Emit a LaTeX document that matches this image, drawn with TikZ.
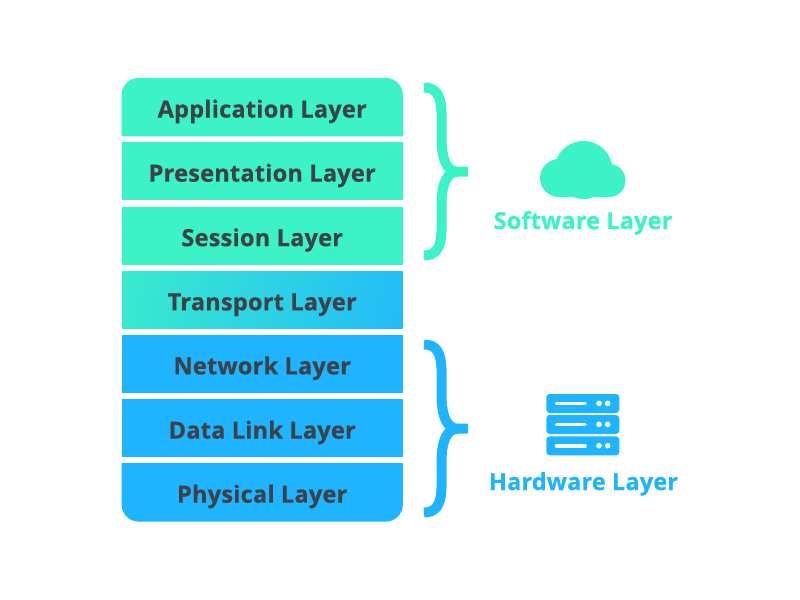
\documentclass[tikz,border=0pt]{standalone}
\usepackage{fontspec}
\usetikzlibrary{backgrounds}
\setmainfont{Open Sans}[LetterSpace=0.8,BoldFeatures={FakeBold=0.4}]
\definecolor{mint}{HTML}{3BF3C7}
\definecolor{sky}{HTML}{1FB4FF}
\definecolor{ink}{HTML}{3C4248}
\tikzset{
  layerbox/.style={minimum width=210.5pt,minimum height=43.5pt,inner sep=0pt,text=ink,text height=15.5pt,text depth=0pt,font=\fontsize{17.7}{20}\selectfont\bfseries},
  headline/.style={inner sep=0pt,text height=15.5pt,text depth=0pt,font=\fontsize{17.6}{20}\selectfont\bfseries},
  bracestroke/.style={line width=7.5pt,line cap=butt,line join=round},
}
\newcommand{\bracepic}[2]{%
  \draw[bracestroke,#1,yshift=#2] (424,87.5)
    .. controls (435,87.5) and (441,94) .. (441.5,112)
    -- (441.5,140)
    .. controls (442,160) and (447,171.7) .. (458,171.7) -- (468,171.7)
    (458,171.7) .. controls (447,171.7) and (442,183) .. (441.5,203)
    -- (441.5,231)
    .. controls (441,249) and (435,255.5) .. (424,255.5);}
\begin{document}
\begin{tikzpicture}[x=0.75pt,y=-0.75pt]
\useasboundingbox (0,0) rectangle (800,600);
% layers
\node[layerbox] (app) at (262.2,107.2) {Application Layer};
\node[layerbox,fill=mint] (pres) at (262.2,171.3) {Presentation Layer};
\node[layerbox,fill=mint] (sess) at (262.2,235.8) {Session Layer};
\node[layerbox] (trans) at (262.2,300) {Transport Layer};
\node[layerbox,fill=sky] (net) at (262.2,364) {Network Layer};
\node[layerbox,fill=sky] (link) at (262.2,428.3) {Data Link Layer};
\node[layerbox] (phys) at (262.2,492.3) {Physical Layer};
\begin{scope}[on background layer]
\fill[white] (0,0) rectangle (800,600);
\fill[mint] (app.south west) [rounded corners=12.75pt] -- (app.north west) -- (app.north east) [sharp corners] -- (app.south east) -- cycle;
\fill[sky] (phys.north west) [rounded corners=12.75pt] -- (phys.south west) -- (phys.south east) [sharp corners] -- (phys.north east) -- cycle;
\begin{scope}
\clip ([shift={(0.6,-0.6)}]trans.south west) rectangle ([shift={(-0.2,0.6)}]trans.north east);
\shade[top color=mint,bottom color=sky,shading angle=75] ([shift={(-186,-186)}]trans.center) rectangle ([shift={(186,186)}]trans.center);
\end{scope}
\end{scope}
% braces
\bracepic{mint}{0pt}
\bracepic{sky}{-192.75pt}
% cloud
\fill[mint] (559,178) circle[radius=14.25pt] (609,180.5) circle[radius=12.4pt] (583.5,170) circle[radius=21.75pt]
  (559,178) rectangle (609,197);
\node[headline,text=mint] (soft) at (583,218.7) {Software Layer};
% server
\foreach \t in {394,415,436.3}{
  \fill[sky,rounded corners=2.5pt] (546.3,\t) rectangle (619.3,\t+19);
  \draw[white,line width=2.7pt,line cap=round] (556.5,\t+9.4) -- (585,\t+9.4);
  \fill[white] (599,\t+9.4) circle[radius=2.1pt] (607.7,\t+9.4) circle[radius=2.1pt];
}
\node[headline,text=sky] (hard) at (583.5,479.7) {Hardware Layer};
\end{tikzpicture}
\end{document}
